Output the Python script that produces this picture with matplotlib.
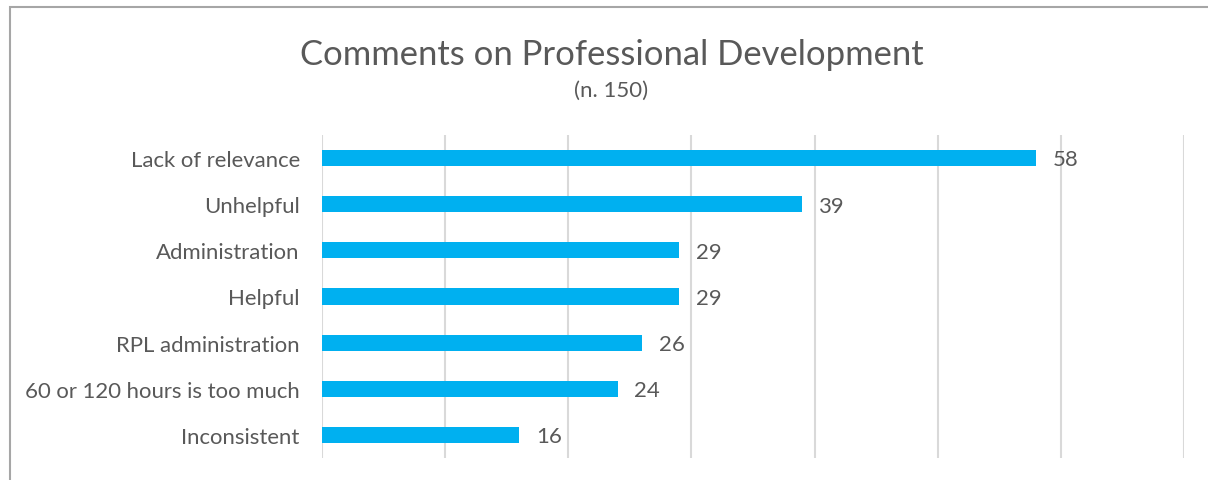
import matplotlib.pyplot as plt
import matplotlib.patches as patches

categories = ['Lack of relevance', 'Unhelpful', 'Administration', 'Helpful',
              'RPL administration', '60 or 120 hours is too much', 'Inconsistent']
counts = [58, 39, 29, 29, 26, 24, 16]

plt.rcParams['font.family'] = ['Lato', 'DejaVu Sans']
text_col = '#595959'

fig = plt.figure(figsize=(12.08, 4.81), dpi=100)
ax = fig.add_axes([0.2666, 0.0457, 0.7136, 0.6716])

y = list(range(len(categories)))
ax.barh(y, counts, height=0.35, color='#00B0F0', zorder=3)
ax.set_ylim(len(categories) - 0.5, -0.5)
ax.set_xlim(0, 70)
ax.set_xticks(range(0, 71, 10))
ax.set_xticklabels([])
ax.tick_params(length=0)
ax.set_yticks(y)
ax.set_yticklabels(categories, fontsize=15.9, color=text_col)
ax.tick_params(axis='y', pad=16)
ax.grid(axis='x', color='#d9d9d9', linewidth=1.5, zorder=0)
for s in ax.spines.values():
    s.set_visible(False)

for yi, v in zip(y, counts):
    ax.annotate(str(v), (v, yi), xytext=(12, -1), textcoords='offset points',
                ha='left', va='center', fontsize=15.9, color=text_col)

fig.text(0.5062, 0.886, 'Comments on Professional Development', ha='center', va='center',
         fontsize=24.9, color=text_col)
fig.text(0.5055, 0.812, '(n. 150)', ha='center', va='center', fontsize=16, color=text_col)

# outer chart border (cropped on right and bottom)
fig.patches.append(patches.Rectangle((10 / 1208, -0.1), 1.2, 1 - 8 / 481 + 0.1,
                                     transform=fig.transFigure, fill=False,
                                     edgecolor='#a6a6a6', linewidth=1.5))

fig.savefig('out.png', dpi=100)
